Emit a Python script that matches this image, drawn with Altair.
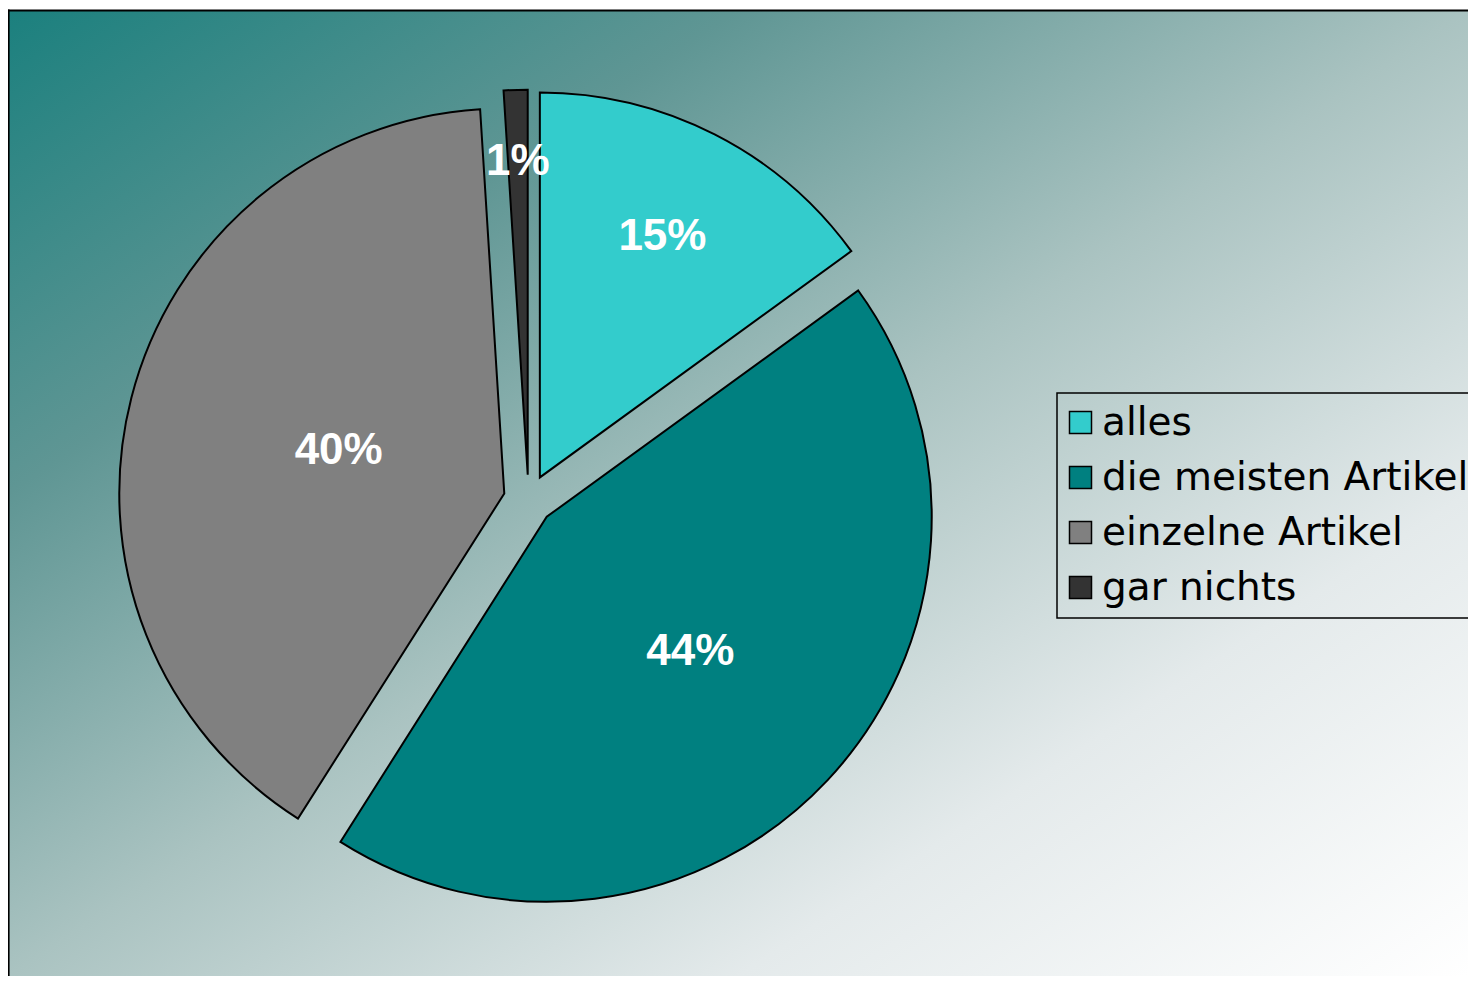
import altair as alt
import pandas as pd

# ---- data ----
categories = ["alles", "die meisten Artikel", "einzelne Artikel", "gar nichts"]
shares = [15, 44, 40, 1]
slice_colors = ["#33CCCC", "#008080", "#808080", "#333333"]

# ---- layout / style ----
W, H = 1460, 968
CX, CY = 520.5, 491.7      # pie centre (pixels in plot area)
R = 385                    # pie radius
EXPLODE = 25               # radial offset of every slice
label_radius = {"alles": 295, "die meisten Artikel": 222,
                "einzelne Artikel": 196, "gar nichts": 338}

df = pd.DataFrame({"cat": categories, "value": shares,
                   "idx": list(range(len(categories)))})

lr_expr = ""
for c, r in label_radius.items():
    lr_expr += f'datum.cat === "{c}" ? {r} : '
lr_expr += "200"

base = (
    alt.Chart(df)
    .transform_joinaggregate(total="sum(value)")
    .transform_window(cum="sum(value)", sort=[alt.SortField("idx")])
    .transform_calculate(
        start="2*PI*(datum.cum - datum.value)/datum.total",
        end="2*PI*datum.cum/datum.total",
    )
    .transform_calculate(mid="(datum.start + datum.end)/2", lr=lr_expr)
    .transform_calculate(
        px=f"{CX} + {EXPLODE}*sin(datum.mid)",
        py=f"{CY} - {EXPLODE}*cos(datum.mid)",
        lx=f"{CX} + datum.lr*sin(datum.mid)",
        ly=f"{CY} - datum.lr*cos(datum.mid)",
        lbl="datum.value + '%'",
    )
)

gradient = alt.LinearGradient(
    gradient="linear",
    stops=[
        alt.GradientStop(color="#1b807e", offset=0),
        alt.GradientStop(color="#5f9694", offset=0.25),
        alt.GradientStop(color="#aac3c1", offset=0.5),
        alt.GradientStop(color="#e4eaeb", offset=0.75),
        alt.GradientStop(color="#ffffff", offset=1),
    ],
    x1=0, y1=0, x2=1, y2=1,
)

one = pd.DataFrame({"k": [0]})
background = (
    alt.Chart(one)
    .mark_rect(fill=gradient)
    .encode(x=alt.value(0), x2=alt.value(W), y=alt.value(2.5), y2=alt.value(H))
)
left_border = alt.Chart(one).mark_rule(color="black", strokeWidth=2.2).encode(
    x=alt.value(0.5), y=alt.value(1.5), y2=alt.value(H)
)
top_border = alt.Chart(one).mark_rule(color="black", strokeWidth=2.2).encode(
    x=alt.value(-0.5), x2=alt.value(W), y=alt.value(2.5)
)

arcs = base.mark_arc(radius=R, stroke="black", strokeWidth=2, strokeJoin="miter").encode(
    theta=alt.Theta("start:Q", scale=None),
    theta2="end:Q",
    x=alt.X("px:Q", scale=None, axis=None),
    y=alt.Y("py:Q", scale=None, axis=None),
    color=alt.Color(
        "cat:N",
        scale=alt.Scale(domain=categories, range=slice_colors),
        legend=alt.Legend(
            title=None,
            orient="none",
            legendX=1049,
            legendY=385,
            direction="vertical",
            symbolType="square",
            symbolSize=484,
            symbolStrokeColor="black",
            symbolStrokeWidth=1.5,
            symbolOpacity=1,
            symbolOffset=-6,
            labelFont="DejaVu Sans",
            labelFontSize=39,
            labelColor="black",
            labelLimit=2000,
            labelOffset=2,
            rowPadding=15,
            padding=10,
            strokeColor="black",
        ),
    ),
)

labels = base.mark_text(
    font="Liberation Sans", fontSize=44, fontWeight="bold", color="white",
    align="center", baseline="middle",
).encode(
    x=alt.X("lx:Q", scale=None, axis=None),
    y=alt.Y("ly:Q", scale=None, axis=None),
    text="lbl:N",
)

chart = (
    alt.layer(background, left_border, top_border, arcs, labels)
    .properties(width=W, height=H, padding=0,
                autosize=alt.AutoSizeParams(type="none"))
    .configure_view(stroke=None)
    .configure_legend(strokeWidth=1.5)
)

chart.save("out.html", embed_options={"renderer": "svg", "actions": False})
